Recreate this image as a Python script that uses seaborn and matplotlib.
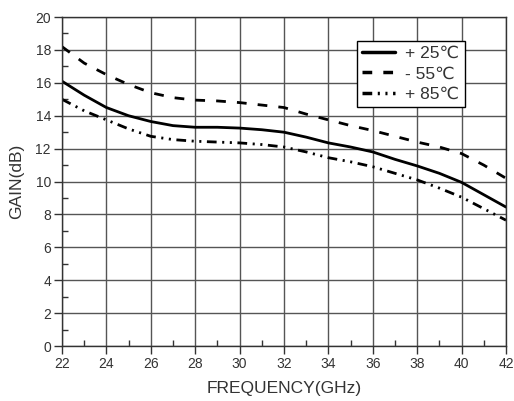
import matplotlib
matplotlib.use("Agg")
import matplotlib.pyplot as plt
import seaborn as sns
import pandas as pd
import numpy as np
from matplotlib.ticker import MultipleLocator

freq_ghz = [22, 23, 24, 25, 26, 27, 28, 29, 30, 31, 32, 33, 34, 35, 36, 37, 38, 39, 40, 41, 42]
gain_p25 = [16.1, 15.25, 14.5, 14.0, 13.65, 13.4, 13.3, 13.3, 13.25, 13.15, 13.0, 12.7, 12.35, 12.1, 11.8, 11.35, 10.95, 10.5, 9.95, 9.2, 8.45]
gain_m55 = [18.2, 17.2, 16.5, 15.9, 15.4, 15.1, 14.95, 14.9, 14.8, 14.65, 14.5, 14.1, 13.75, 13.4, 13.1, 12.75, 12.4, 12.1, 11.7, 11.0, 10.2]
gain_p85 = [15.0, 14.3, 13.75, 13.2, 12.75, 12.55, 12.45, 12.4, 12.35, 12.25, 12.1, 11.8, 11.45, 11.2, 10.9, 10.5, 10.1, 9.6, 9.05, 8.35, 7.65]
series_labels = ["+ 25\u2103", "- 55\u2103", "+ 85\u2103"]

df = pd.DataFrame({
    "freq": freq_ghz * 3,
    "gain": gain_p25 + gain_m55 + gain_p85,
    "temp": [series_labels[0]] * len(freq_ghz)
            + [series_labels[1]] * len(freq_ghz)
            + [series_labels[2]] * len(freq_ghz),
})

sns.set_style("white")
plt.rcParams["font.family"] = ["Liberation Sans", "DejaVu Sans"]
plt.rcParams["lines.scale_dashes"] = False

text_col = "#333333"
fig = plt.figure(figsize=(5.14, 4.01), dpi=100)
ax = fig.add_axes([0.1206, 0.137, 0.8638, 0.8205])

dash_styles = {
    series_labels[0]: "",
    series_labels[1]: (7, 8),
    series_labels[2]: (7, 4, 1.5, 4, 1.5, 4),
}
sns.lineplot(data=df, x="freq", y="gain", style="temp", dashes=dash_styles,
             color="black", linewidth=2.0, ax=ax, legend=True)

ax.set_xlim(22, 42)
ax.set_ylim(0, 20)
ax.xaxis.set_major_locator(MultipleLocator(2))
ax.yaxis.set_major_locator(MultipleLocator(2))
ax.xaxis.set_minor_locator(MultipleLocator(1))
ax.yaxis.set_minor_locator(MultipleLocator(1))
ax.grid(True, which="major", color="#555555", linewidth=1.0)
ax.set_axisbelow(True)
ax.tick_params(which="major", direction="out", length=6, width=1,
               color="#333333", labelsize=10, labelcolor=text_col, pad=2)
ax.tick_params(which="minor", direction="in", length=4, width=1, color="#333333")
ax.tick_params(axis="x", which="both", bottom=True)
ax.tick_params(axis="y", which="both", left=True)
for sp in ax.spines.values():
    sp.set_color("#333333")
    sp.set_linewidth(1.0)

ax.set_xlabel("FREQUENCY(GHz)", fontsize=12.5, color=text_col, labelpad=7)
ax.set_ylabel("GAIN(dB)", fontsize=12.5, color=text_col, labelpad=8)

leg = ax.legend(loc="upper right", bbox_to_anchor=(0.907, 0.928), fontsize=12.5,
                frameon=True, fancybox=False, framealpha=1, edgecolor="black",
                handlelength=1.9, handletextpad=0.6, borderpad=0.3,
                borderaxespad=0, labelspacing=0.3, title=None)
leg.get_frame().set_linewidth(1.0)
for t in leg.get_texts():
    t.set_color(text_col)
for h in leg.get_lines():
    h.set_linewidth(2.5)

fig.savefig("out.png", dpi=100)
